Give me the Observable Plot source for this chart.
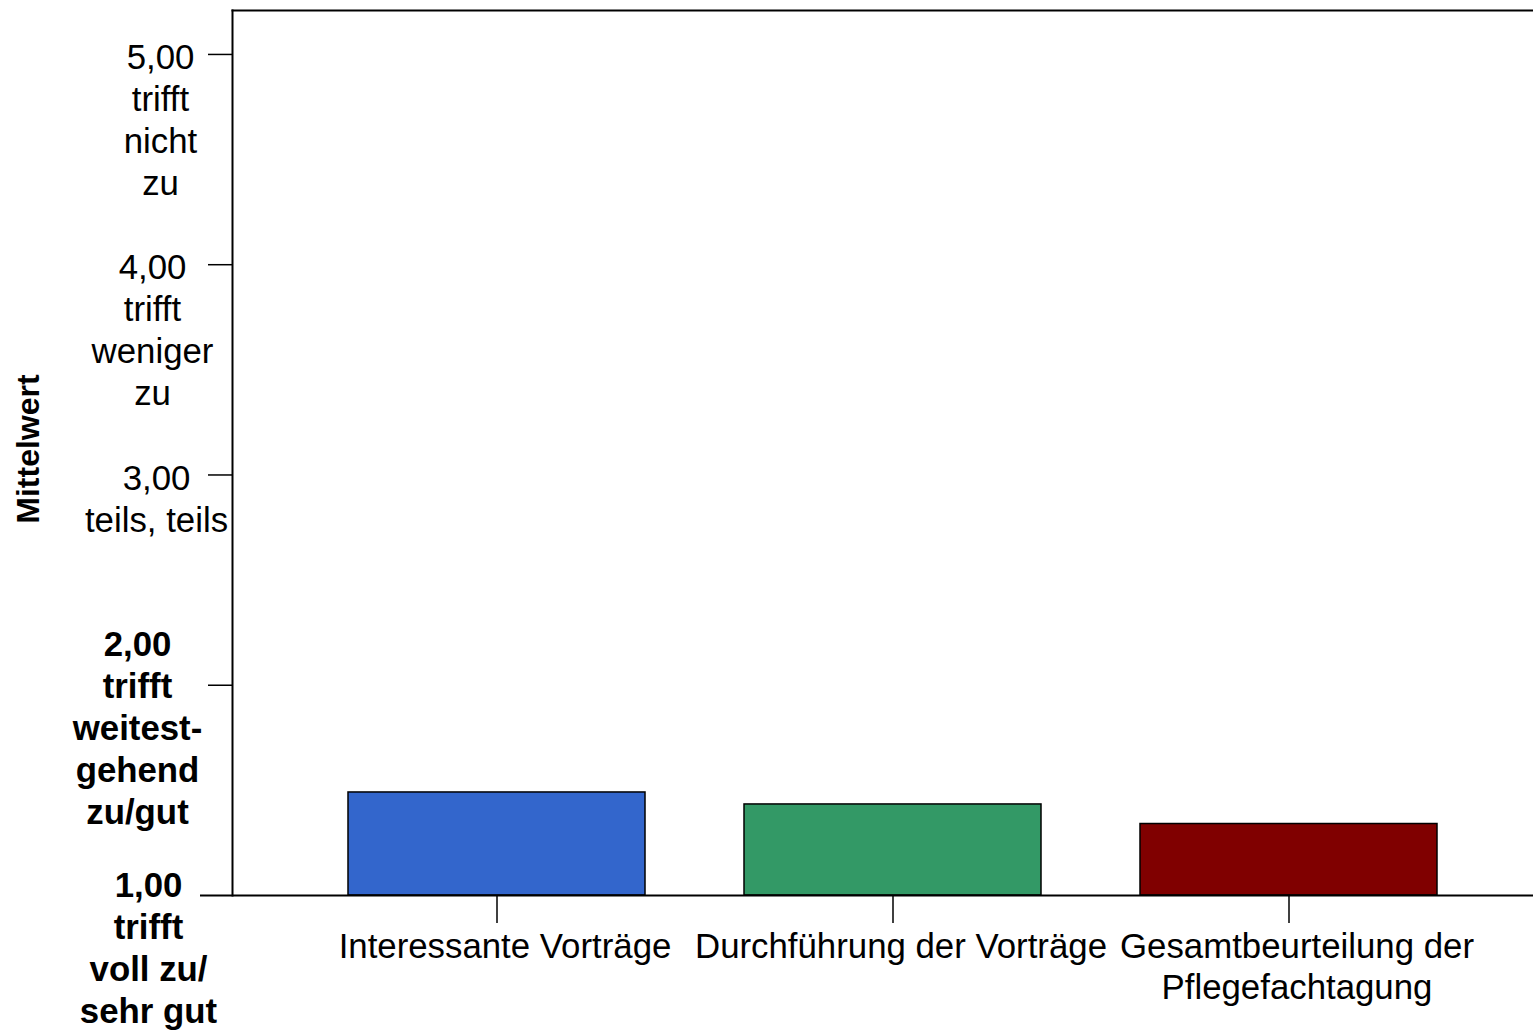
<!DOCTYPE html>
<html>
<head>
<meta charset="utf-8">
<script src="https://cdn.jsdelivr.net/npm/d3@7"></script>
<script src="https://cdn.jsdelivr.net/npm/@observablehq/plot@0.6"></script>
<style>
  html, body { margin: 0; padding: 0; background: #fff; }
  #chart { width: 1533px; height: 1030px; overflow: hidden; }
</style>
</head>
<body>
<div id="chart"></div>
<script>
const categories = ["Interessante Vorträge", "Durchführung der Vorträge", "Gesamtbeurteilung der Pflegefachtagung"];
const xTickLabels = ["Interessante Vorträge", "Durchführung der Vorträge", "Gesamtbeurteilung der\nPflegefachtagung"];
const means = [1.49, 1.433, 1.34];
const barColors = ["#3366cc", "#339966", "#800000"];
const yTicks = [1, 2, 3, 4, 5];
const yTickLabels = [
  "1,00\ntrifft\nvoll zu/\nsehr gut",
  "2,00\ntrifft\nweitest-\ngehend\nzu/gut",
  "3,00\nteils, teils",
  "4,00\ntrifft\nweniger\nzu",
  "5,00\ntrifft\nnicht\nzu"
];
const yTitle = "Mittelwert";

const data = categories.map((c, i) => ({cat: c, value: means[i]}));
const labelOf = d => yTickLabels[yTicks.indexOf(d)];

function yLabel(v, dx, dy, bold) {
  return Plot.text([v], {
    y: d => d, text: labelOf, frameAnchor: "left",
    dx, dy, textAnchor: "middle", lineAnchor: "top", lineHeight: 1.207,
    fontWeight: bold ? "bold" : "normal", fill: "black"
  });
}

const chart = Plot.plot({
  width: 1533, height: 1030,
  marginTop: 10, marginLeft: 232, marginRight: 0, marginBottom: 135,
  style: {fontFamily: "'Liberation Sans', Arial, sans-serif", fontSize: "34.8px", color: "black", background: "white", overflow: "visible"},
  x: {domain: categories, range: [298, 1486], paddingInner: 0.25, paddingOuter: 0.125},
  y: {domain: [1, 5.209]},
  color: {domain: categories, range: barColors},
  marks: [
    Plot.barY(data, {x: "cat", y1: 1, y2: "value", fill: "cat", stroke: "black", strokeWidth: 1.5}),
    Plot.frame({anchor: "top", strokeWidth: 2}),
    Plot.frame({anchor: "left", strokeWidth: 2}),
    Plot.ruleY([1], {insetLeft: -32, strokeWidth: 2}),
    Plot.axisY(yTicks.filter(d => d > 1), {tickSize: 24, tickFormat: () => "", label: null, strokeWidth: 1.5}),
    Plot.axisX({tickSize: 28, tickFormat: () => "", label: null, strokeWidth: 1.5}),
    Plot.text(categories, {x: d => d, text: d => xTickLabels[categories.indexOf(d)], frameAnchor: "bottom",
                dx: 8, dy: 33, textAnchor: "middle", lineAnchor: "top", lineHeight: 1.18, fill: "black"}),
    yLabel(5, -72, -15, false),
    yLabel(4, -80, -16, false),
    yLabel(3, -76, -15, false),
    yLabel(2, -95, -59, true),
    yLabel(1, -84, -28, true),
    Plot.text([yTitle], {frameAnchor: "left", dx: -204, dy: -4, rotate: -90, textAnchor: "middle", fontWeight: "bold", fontSize: 32, fill: "black"})
  ]
});
document.getElementById("chart").appendChild(chart);
</script>
</body>
</html>
